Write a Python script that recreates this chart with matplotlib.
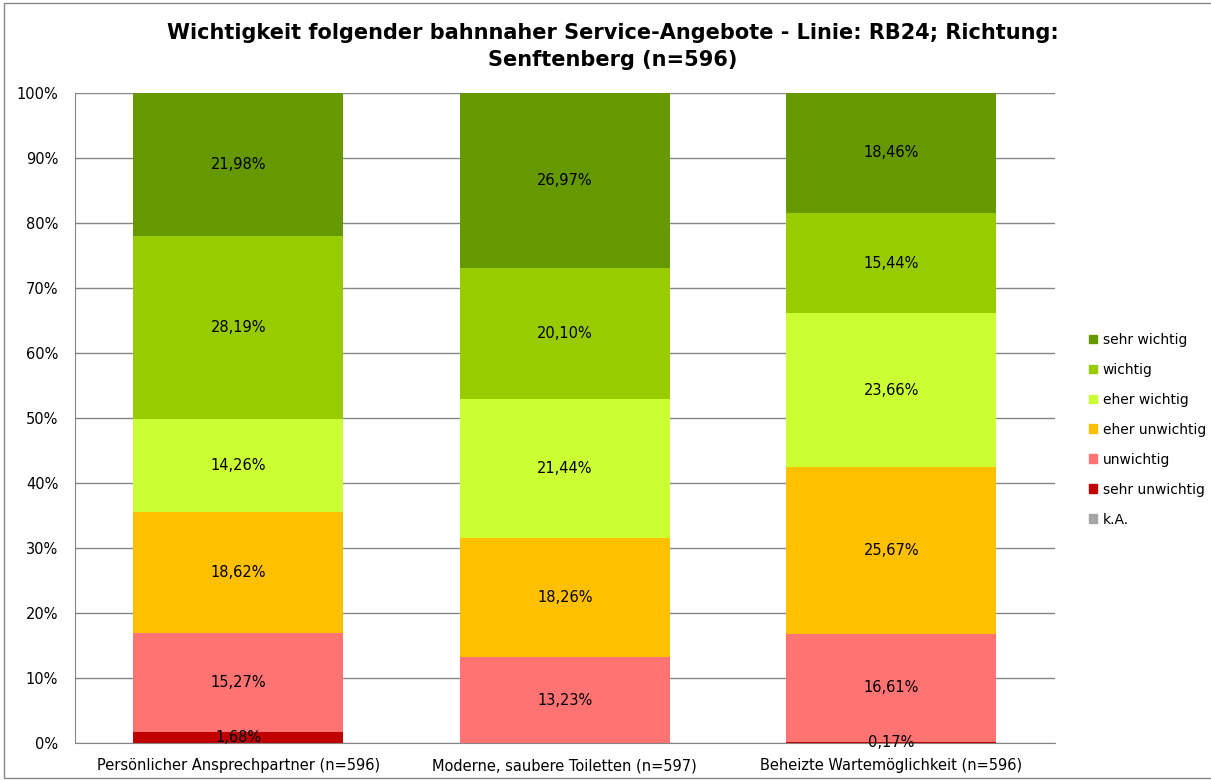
import numpy as np
from matplotlib import pyplot as plt
from matplotlib.patches import Rectangle, Patch

categories = ["Persönlicher Ansprechpartner (n=596)",
              "Moderne, saubere Toiletten (n=597)",
              "Beheizte Wartemöglichkeit (n=596)"]

# bottom to top
series = ["k.A.", "sehr unwichtig", "unwichtig", "eher unwichtig",
          "eher wichtig", "wichtig", "sehr wichtig"]
k_a = [0.0, 0.0, 0.0]
sehr_unwichtig = [1.68, 0.0, 0.17]
unwichtig = [15.27, 13.23, 16.61]
eher_unwichtig = [18.62, 18.26, 25.67]
eher_wichtig = [14.26, 21.44, 23.66]
wichtig = [28.19, 20.10, 15.44]
sehr_wichtig = [21.98, 26.97, 18.46]

colors = ["#A6A6A6", "#C00000", "#FF7373", "#FFC000",
          "#CCFF33", "#99CC00", "#669900"]

values = [k_a, sehr_unwichtig, unwichtig, eher_unwichtig,
          eher_wichtig, wichtig, sehr_wichtig]

plt.rcParams['font.family'] = ['DejaVu Sans']

fig = plt.figure(figsize=(12.11, 7.80), dpi=100)
ax = fig.add_axes([0.0619, 0.0474, 0.8091, 0.8333])

x = np.arange(len(categories))
bottom = np.zeros(len(categories))
for name, vals, col in zip(series, values, colors):
    vals = np.array(vals)
    ax.bar(x, vals, 0.643, bottom=bottom, color=col, label=name, zorder=3)
    for xi, b, v in zip(x, bottom, vals):
        if v > 0:
            ax.text(xi, b + v / 2, f"{v:.2f}%".replace(".", ","),
                    ha='center', va='center', fontsize=10.5, color='black', zorder=4)
    bottom += vals

ax.set_xlim(-0.5, 2.5)
ax.set_ylim(0, 100)
ax.set_yticks(np.arange(0, 101, 10))
ax.set_yticklabels([f"{t}%" for t in range(0, 101, 10)], fontsize=10.5)
ax.set_xticks(x)
ax.set_xticklabels(categories, fontsize=10.5)
ax.tick_params(axis='y', length=0, pad=12)
ax.tick_params(axis='x', length=0, pad=11)
ax.yaxis.grid(True, color='#868686', linewidth=1, zorder=0)
for s in ['top', 'right']:
    ax.spines[s].set_visible(False)
for s in ['left', 'bottom']:
    ax.spines[s].set_color('#868686')

fig.text(0.506, 0.94, "Wichtigkeit folgender bahnnaher Service-Angebote - Linie: RB24; Richtung:\nSenftenberg (n=596)",
         ha='center', va='center', fontsize=15, fontweight='bold', linespacing=1.45)

handles = [Patch(color=c, label=n) for n, c in zip(series, colors)][::-1]
fig.legend(handles=handles, loc='center left', bbox_to_anchor=(0.899, 0.449),
           frameon=False, fontsize=10, handlelength=0.6, handleheight=0.6,
           handletextpad=0.4, labelspacing=1.15, borderaxespad=0, borderpad=0)

fig.patches.append(Rectangle((0.003, 0.003), 1.2, 0.993, transform=fig.transFigure,
                             fill=False, edgecolor='#868686', linewidth=1))

fig.savefig("out.png", dpi=100)
